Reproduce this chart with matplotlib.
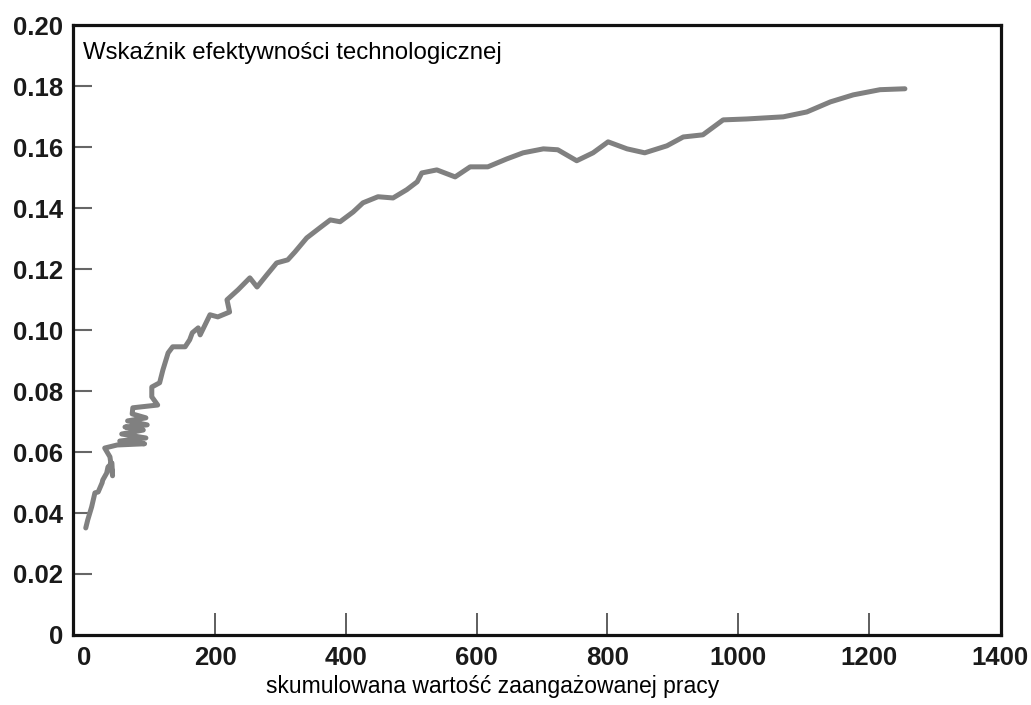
import matplotlib.pyplot as plt

# Cumulative work (x) vs. technological efficiency index (y)
work = [2, 5, 11, 16, 21, 27, 28, 34, 36, 42, 43, 39, 31, 50,
        92, 54, 94, 57, 90, 62, 96, 66, 94, 73,
        74, 112, 103, 103, 115, 120, 128, 135, 154, 161, 165, 174, 177,
        192, 204, 222, 218, 235, 253, 264, 279, 294, 311, 322, 340, 360,
        376, 391, 411, 426, 449, 472, 493, 509, 516, 539, 567, 590, 617,
        646, 671, 702, 724, 753, 778, 801, 830, 857, 891, 916, 946, 977,
        1013, 1069, 1105, 1141, 1176, 1217, 1255]
efficiency = [0.0351, 0.0377, 0.0420, 0.0466, 0.0469, 0.0499, 0.0508, 0.0531, 0.0551,
              0.0564, 0.0522, 0.0584, 0.0613, 0.0623,
              0.0627, 0.0636, 0.0646, 0.0659, 0.0672, 0.0682, 0.0689, 0.0702, 0.0712, 0.0725,
              0.0745, 0.0754, 0.0781, 0.0813, 0.0827, 0.0869, 0.0925, 0.0945, 0.0945,
              0.0968, 0.0991, 0.1007, 0.0984, 0.1050, 0.1043, 0.1059, 0.1099, 0.1132,
              0.1171, 0.1141, 0.1181, 0.1220, 0.1230, 0.1256, 0.1302, 0.1335, 0.1361,
              0.1355, 0.1387, 0.1417, 0.1437, 0.1433, 0.1460, 0.1486, 0.1515, 0.1525,
              0.1502, 0.1535, 0.1535, 0.1561, 0.1581, 0.1594, 0.1591, 0.1555, 0.1581,
              0.1617, 0.1594, 0.1581, 0.1604, 0.1633, 0.1640, 0.1689, 0.1692, 0.1699,
              0.1715, 0.1748, 0.1771, 0.1788, 0.1791]

x_ticks = [0, 200, 400, 600, 800, 1000, 1200, 1400]
y_ticks = [0, 0.02, 0.04, 0.06, 0.08, 0.10, 0.12, 0.14, 0.16, 0.18, 0.20]
y_labels = ['0', '0.02', '0.04', '0.06', '0.08', '0.10', '0.12', '0.14', '0.16', '0.18', '0.20']

plt.rcParams['font.family'] = ['Liberation Sans', 'DejaVu Sans']

fig = plt.figure(figsize=(10.31, 7.05), dpi=100)
ax = fig.add_axes([0.0705, 0.0993, 0.9004, 0.8652])

ax.plot(work, efficiency, color='#808080', linewidth=3.6,
        solid_joinstyle='round', solid_capstyle='round')

ax.set_xlim(-18, 1402)
ax.set_ylim(0, 0.2)
ax.set_xticks(x_ticks)
ax.set_yticks(y_ticks)
ax.set_yticklabels(y_labels)

for lbl in ax.get_xticklabels() + ax.get_yticklabels():
    lbl.set_fontweight('bold')
    lbl.set_fontsize(18.5)
    lbl.set_color('#1a1a1a')

ax.tick_params(axis='x', direction='in', length=16, width=1.1, color='#333333', pad=8)
ax.tick_params(axis='y', direction='in', length=14, width=1.5, color='#666666', pad=7)
# no tick marks on the corners
for t in (ax.xaxis.get_major_ticks()[0], ax.xaxis.get_major_ticks()[-1],
          ax.yaxis.get_major_ticks()[0], ax.yaxis.get_major_ticks()[-1]):
    t.tick1line.set_visible(False)

for sp in ax.spines.values():
    sp.set_linewidth(2.3)
    sp.set_color('#111111')

ax.text(0.011, 0.972, 'Wskaźnik efektywności technologicznej', transform=ax.transAxes,
        ha='left', va='top', fontsize=17.3)

fig.text(0.478, 0.01, 'skumulowana wartość zaangażowanej pracy', ha='center', va='bottom',
         fontsize=16.5)

fig.savefig('out.png', dpi=100)
